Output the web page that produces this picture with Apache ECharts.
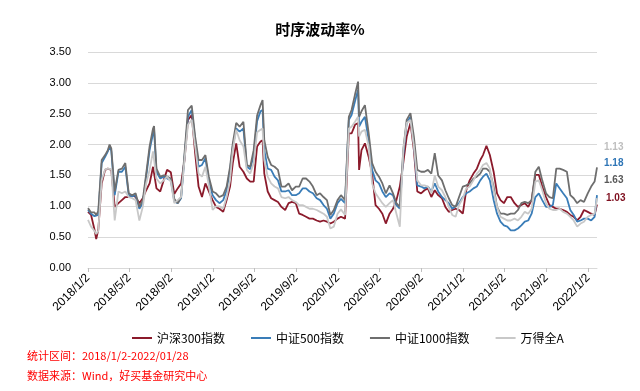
<!DOCTYPE html>
<html>
<head>
<meta charset="utf-8">
<script src="https://cdn.jsdelivr.net/npm/echarts@6/dist/echarts.min.js"></script>
<style>
html,body{margin:0;padding:0;background:#fff;}
#chart{width:640px;height:391px;}
</style>
</head>
<body>
<div id="chart"></div>
<script>
// ---- data ----
const seriesNames = ['沪深300指数', '中证500指数', '中证1000指数', '万得全A'];
const tickLabels = ['2018/1/2','2018/5/2','2018/9/2','2019/1/2','2019/5/2','2019/9/2','2020/1/2','2020/5/2','2020/9/2','2021/1/2','2021/5/2','2021/9/2','2022/1/2'];
const firstDay = '2018/1/2';
const lastDay = '2022/1/28';

const dates = [
'2018/1/2','2018/1/11','2018/1/21','2018/1/26','2018/2/1','2018/2/11','2018/2/21','2018/3/1','2018/3/6','2018/3/11','2018/3/21',
'2018/4/1','2018/4/11','2018/4/21','2018/4/26','2018/5/1','2018/5/11','2018/5/21','2018/6/1','2018/6/11','2018/6/21',
'2018/7/1','2018/7/11','2018/7/14','2018/7/21','2018/8/1','2018/8/11','2018/8/21','2018/9/1','2018/9/11','2018/9/21',
'2018/10/1','2018/10/11','2018/10/21','2018/11/1','2018/11/11','2018/11/21','2018/12/1','2018/12/11','2018/12/21',
'2019/1/1','2019/1/11','2019/1/21','2019/2/1','2019/2/11','2019/2/21','2019/3/1','2019/3/11','2019/3/21',
'2019/4/1','2019/4/11','2019/4/21','2019/5/1','2019/5/11','2019/5/21','2019/5/27','2019/6/1','2019/6/11','2019/6/21',
'2019/7/1','2019/7/11','2019/7/21','2019/8/1','2019/8/11','2019/8/21','2019/9/1','2019/9/11','2019/9/21',
'2019/10/1','2019/10/11','2019/10/21','2019/11/1','2019/11/11','2019/11/21','2019/12/1','2019/12/11','2019/12/21',
'2020/1/1','2020/1/11','2020/1/23','2020/2/3','2020/2/11','2020/2/21','2020/3/1','2020/3/4','2020/3/11','2020/3/21',
'2020/4/1','2020/4/11','2020/4/21','2020/5/1','2020/5/11','2020/5/21','2020/6/1','2020/6/11','2020/6/21',
'2020/7/1','2020/7/11','2020/7/21','2020/8/1','2020/8/11','2020/8/21','2020/9/1','2020/9/11','2020/9/21',
'2020/10/1','2020/10/11','2020/10/21','2020/11/1','2020/11/11','2020/11/21','2020/12/1','2020/12/11','2020/12/21',
'2021/1/1','2021/1/11','2021/1/21','2021/2/1','2021/2/11','2021/2/21','2021/3/1','2021/3/11','2021/3/21',
'2021/4/1','2021/4/11','2021/4/21','2021/5/1','2021/5/11','2021/5/21','2021/6/1','2021/6/11','2021/6/21',
'2021/7/1','2021/7/11','2021/7/21','2021/8/1','2021/8/11','2021/8/21','2021/9/1','2021/9/11','2021/9/21',
'2021/10/1','2021/10/11','2021/10/21','2021/11/1','2021/11/11','2021/11/21','2021/12/1','2021/12/11','2021/12/21',
'2022/1/1','2022/1/11','2022/1/21','2022/1/28'
];

const hs300 = [
0.91,0.86,0.62,0.47,0.62,1.37,1.59,1.61,1.62,1.59,0.99,
1.05,1.10,1.15,1.15,1.15,1.18,1.15,1.05,1.13,1.26,
1.37,1.64,1.67,1.29,1.24,1.42,1.59,1.55,1.20,1.29,
1.37,1.75,2.40,2.48,1.86,1.32,1.15,1.37,1.24,
1.10,0.99,0.96,0.91,1.10,1.32,1.70,2.02,1.64,
1.56,1.45,1.40,1.40,1.97,2.05,2.07,1.53,1.24,1.13,
1.10,1.07,0.99,0.94,1.05,1.07,1.05,0.88,0.86,
0.83,0.80,0.80,0.77,0.75,0.77,0.75,0.72,0.75,
0.80,0.83,0.80,2.18,2.18,2.32,2.35,1.59,1.91,2.02,
1.80,1.53,1.02,0.96,0.88,0.72,0.88,0.96,1.10,
1.32,1.70,2.13,2.35,1.91,1.24,1.21,1.26,1.29,
1.15,1.26,1.18,1.13,0.99,0.91,0.94,0.96,0.94,
0.88,1.26,1.42,1.53,1.61,1.75,1.83,1.98,1.83,
1.56,1.21,1.10,1.05,1.15,1.15,1.05,0.99,1.02,
1.05,0.99,1.10,1.51,1.51,1.32,1.15,1.02,0.99,
0.96,0.96,0.94,0.91,0.86,0.83,0.77,0.83,0.94,
0.91,0.88,0.86,1.03
];

const zz500 = [
0.94,0.88,0.84,0.82,0.86,1.70,1.80,1.89,1.97,1.90,1.18,
1.56,1.56,1.64,1.65,1.18,1.16,1.18,0.96,1.05,1.48,
1.91,2.18,2.24,1.56,1.45,1.48,1.45,1.42,1.08,1.05,
1.13,1.80,2.45,2.56,2.07,1.64,1.67,1.78,1.42,
1.18,1.10,1.05,1.10,1.26,1.59,1.97,2.26,2.21,
2.26,1.64,1.60,1.83,2.38,2.54,2.56,1.91,1.61,1.59,
1.48,1.42,1.24,1.24,1.26,1.18,1.18,1.21,1.29,
1.29,1.24,1.21,1.13,1.10,1.02,0.96,0.80,0.88,
1.05,1.12,1.05,2.40,2.48,2.70,2.89,2.29,2.37,2.45,
2.07,1.59,1.42,1.37,1.24,1.15,1.21,1.18,1.02,
0.96,1.83,2.35,2.45,2.02,1.34,1.32,1.29,1.32,
1.24,1.37,1.24,1.15,1.10,1.05,0.96,1.00,1.05,
1.15,1.21,1.24,1.29,1.32,1.42,1.48,1.53,1.42,
1.10,0.88,0.75,0.69,0.67,0.61,0.61,0.64,0.69,
0.75,0.77,0.88,1.15,1.21,1.10,0.99,0.99,1.02,
1.37,1.29,1.21,1.13,0.94,0.86,0.75,0.77,0.80,
0.80,0.77,0.83,1.18
];

const zz1000 = [
0.97,0.90,0.90,0.86,0.92,1.75,1.83,1.91,2.00,1.94,1.24,
1.59,1.61,1.70,1.72,1.21,1.18,1.21,0.99,1.10,1.53,
1.97,2.26,2.30,1.61,1.48,1.50,1.48,1.45,1.12,1.05,
1.15,1.86,2.56,2.63,2.13,1.75,1.75,1.83,1.48,
1.24,1.21,1.15,1.18,1.32,1.64,2.02,2.35,2.29,
2.37,1.67,1.64,1.91,2.47,2.64,2.72,2.07,1.80,1.67,
1.64,1.59,1.32,1.32,1.37,1.26,1.32,1.32,1.45,
1.45,1.40,1.32,1.18,1.21,1.15,1.10,0.86,0.94,
1.10,1.18,1.10,2.45,2.56,2.81,3.02,2.45,2.54,2.64,
2.18,1.70,1.56,1.48,1.37,1.21,1.34,1.21,1.05,
0.99,1.91,2.40,2.51,2.13,1.59,1.56,1.56,1.59,
1.53,1.86,1.50,1.42,1.26,1.13,1.02,0.99,1.15,
1.32,1.34,1.37,1.45,1.48,1.53,1.61,1.61,1.56,
1.32,0.99,0.88,0.88,0.86,0.88,0.88,0.94,1.05,
1.07,1.05,1.10,1.56,1.64,1.42,1.21,1.15,1.13,
1.61,1.61,1.59,1.56,1.18,1.13,1.05,1.10,1.07,
1.21,1.32,1.40,1.63
];

const wdqa = [
0.78,0.67,0.60,0.55,0.60,1.42,1.60,1.61,1.62,1.60,0.77,
1.24,1.21,1.24,1.22,1.15,1.13,1.10,0.77,0.99,1.37,
1.59,1.89,1.91,1.45,1.37,1.42,1.48,1.40,1.05,1.10,
1.15,1.75,2.32,2.40,1.97,1.53,1.48,1.64,1.34,
0.94,1.00,1.00,0.96,1.15,1.42,1.91,2.24,2.07,
1.97,1.59,1.53,1.70,2.20,2.24,2.26,1.75,1.48,1.37,
1.32,1.29,1.15,1.13,1.15,1.10,1.07,1.02,1.02,
0.99,0.96,0.96,0.94,0.91,0.88,0.83,0.64,0.67,
0.88,0.95,0.86,2.26,2.29,2.37,2.45,2.13,2.21,2.24,
1.97,1.37,1.21,1.13,1.05,0.99,1.05,1.10,0.88,
0.67,1.91,2.35,2.40,1.97,1.42,1.34,1.34,1.32,
1.21,1.50,1.32,1.26,1.15,0.99,0.86,0.83,1.02,
1.13,1.29,1.32,1.42,1.53,1.59,1.67,1.70,1.61,
1.26,0.99,0.83,0.80,0.77,0.77,0.80,0.77,0.83,
0.91,0.88,0.96,1.40,1.42,1.26,1.05,0.96,0.94,
0.94,0.96,0.91,0.88,0.83,0.77,0.67,0.72,0.75,
0.83,0.86,0.88,1.13
];

const colors = ['#8B1A2B', '#3A7DB8', '#6E6E6E', '#C8C8C8'];
const endLabelColors = ['#7F1020', '#2E75B6', '#595959', '#BFBFBF'];
const footerLines = ['统计区间：2018/1/2-2022/01/28', '数据来源：Wind，好买基金研究中心'];

// ---- build calendar-day category axis ----
function fmt(d){ return d.getFullYear() + '/' + (d.getMonth()+1) + '/' + d.getDate(); }
function parse(s){ const p = s.split('/').map(Number); return new Date(p[0], p[1]-1, p[2]); }
const days = [];
for (let d = parse(firstDay); d <= parse(lastDay); d.setDate(d.getDate()+1)) days.push(fmt(d));
const dayIndex = {};
days.forEach((s,i)=>{ dayIndex[s] = i; });
function place(vals){
  const arr = new Array(days.length).fill(null);
  dates.forEach((s,i)=>{ arr[dayIndex[s]] = vals[i]; });
  return arr;
}
const tickSet = new Set(tickLabels);
const showTick = (idx, val) => tickSet.has(val);

const allVals = [hs300, zz500, zz1000, wdqa];
const series = allVals.map((v,i)=>({
  name: seriesNames[i],
  type: 'line',
  data: place(v),
  connectNulls: true,
  showSymbol: false,
  symbol: 'none',
  lineStyle: { width: 1.8, color: colors[i] },
  itemStyle: { color: colors[i] },
  animation: false
}));

// end-value annotations (stacked at the right, as in the reference)
const endTops = [193, 158, 175, 142];
const endLefts = [606, 604, 604, 604];
const graphics = [];
[3,1,2,0].forEach(i=>{
  const v = allVals[i][allVals[i].length-1];
  graphics.push({ type:'text', left: endLefts[i], top: endTops[i],
    style:{ text: v.toFixed(2), fill: endLabelColors[i], font: 'bold 10px "Liberation Sans", Arial, sans-serif' } });
});
footerLines.forEach((t,i)=>{
  graphics.push({ type:'text', left: 27, top: 350 + i*20,
    style:{ text: t, fill: '#FF0000', font: '11px "Noto Sans CJK SC", sans-serif' } });
});

const chart = echarts.init(document.getElementById('chart'), null, {renderer:'canvas'});
chart.setOption({
  animation: false,
  backgroundColor: '#fff',
  color: colors,
  title: {
    text: '时序波动率%', left: 'center', top: 17,
    textStyle: { fontSize: 15, fontWeight: 'bold', color: '#000', fontFamily: '"Noto Sans CJK SC", sans-serif' }
  },
  legend: {
    data: seriesNames, top: 327, left: 127,
    icon: 'rect', itemWidth: 20, itemHeight: 2, itemGap: 26,
    textStyle: { fontSize: 12, color: '#000', fontFamily: '"Noto Sans CJK SC", sans-serif' }
  },
  grid: { left: 88, right: 43, top: 52, bottom: 123, containLabel: false },
  xAxis: {
    type: 'category', data: days, boundaryGap: false,
    axisLine: { lineStyle: { color: '#D9D9D9' } },
    axisTick: { show: true, interval: showTick, length: 4, lineStyle: { color: '#BFBFBF' } },
    axisLabel: { interval: showTick, rotate: 45, margin: 8, fontSize: 12, color: '#000',
      fontFamily: '"Liberation Sans", Arial, sans-serif' },
    splitLine: { show: false }
  },
  yAxis: {
    type: 'value', min: 0, max: 3.5, interval: 0.5,
    axisLine: { show: false }, axisTick: { show: false },
    axisLabel: { formatter: v => v.toFixed(2), fontSize: 11, color: '#000', margin: 17,
      fontFamily: '"Liberation Sans", Arial, sans-serif' },
    splitLine: { lineStyle: { color: '#D9D9D9' } }
  },
  graphic: graphics,
  series: series
});
</script>
</body>
</html>
